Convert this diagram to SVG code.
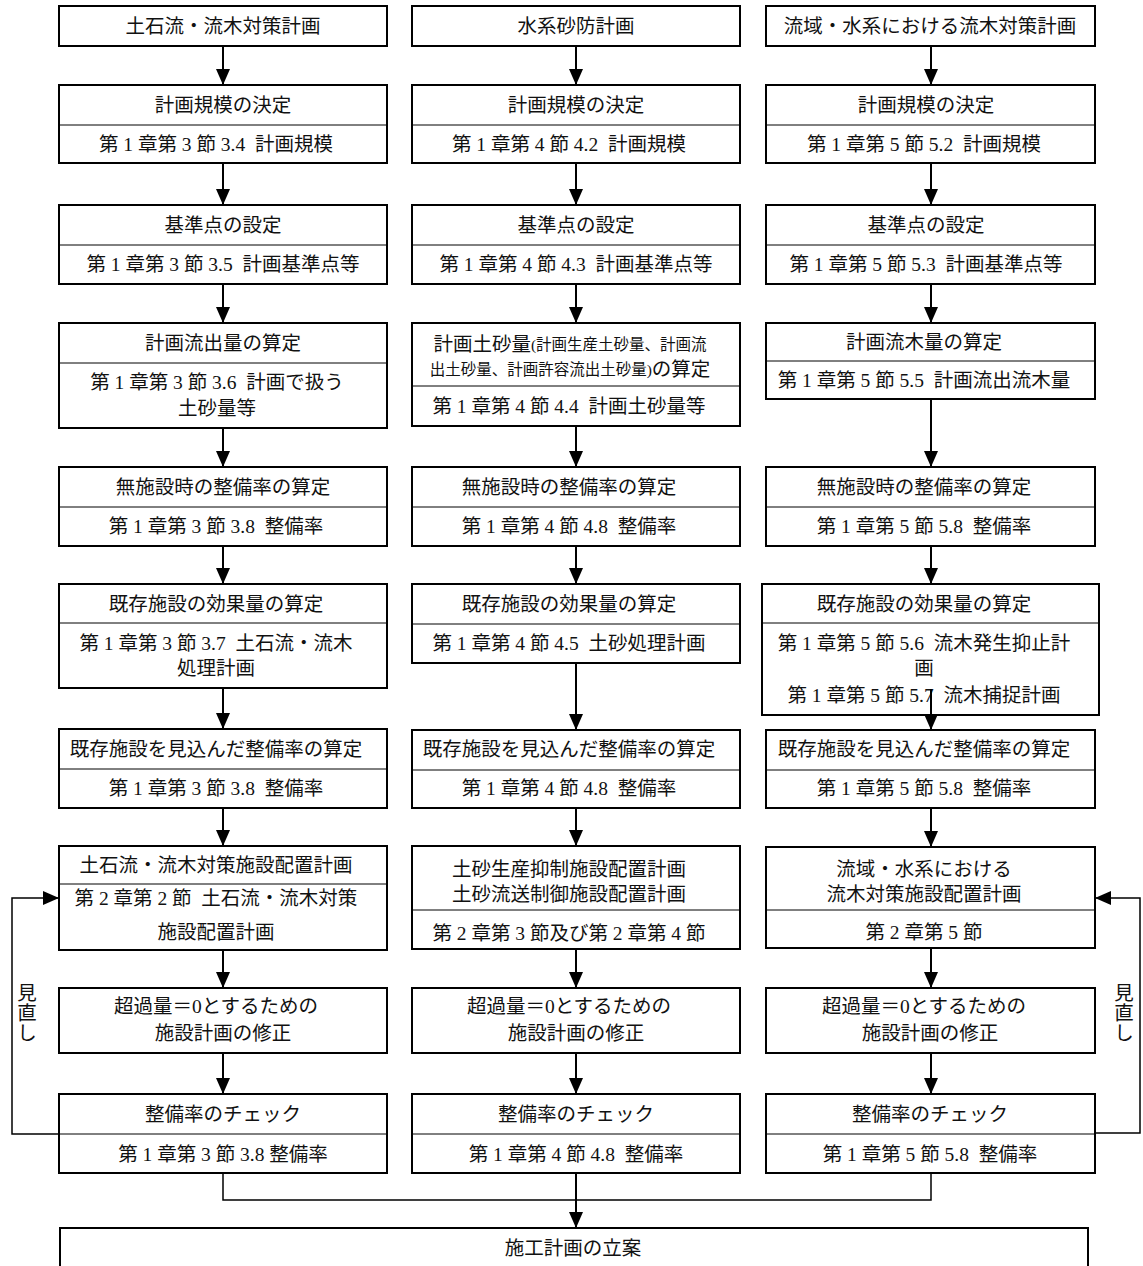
<svg xmlns="http://www.w3.org/2000/svg" width="1143" height="1266" viewBox="0 0 1143 1266" xml:space="preserve">
<defs>
<style>
.b{fill:#fff;stroke:#000;stroke-width:2}
.d{stroke:#000;stroke-width:1}
.t{font-family:"Liberation Serif","Noto Sans CJK JP",serif;font-size:19.5px;fill:#111;text-anchor:middle;dominant-baseline:central;white-space:pre}
.s{font-size:15.5px}
.c{fill:none;stroke:#000;stroke-width:2;marker-end:url(#ah)}
.f{fill:none;stroke:#000;stroke-width:1.5}
.fa{fill:none;stroke:#000;stroke-width:1.5;marker-end:url(#ah)}
</style>
<marker id="ah" viewBox="0 0 16 14" refX="16" refY="7" markerWidth="16" markerHeight="14" markerUnits="userSpaceOnUse" orient="auto">
<path d="M0,0 L16,7 L0,14 z" fill="#000"/>
</marker>
</defs>
<rect width="1143" height="1266" fill="#fff"/>

<!-- Column 1 -->
<g id="n1a"><rect class="b" x="59" y="6" width="328" height="40"/><text class="t" x="223" y="26">土石流・流木対策計画</text></g>
<g id="n1b"><rect class="b" x="59" y="85" width="328" height="78"/><line class="d" x1="59" y1="125" x2="387" y2="125"/><text class="t" x="223" y="105">計画規模の決定</text><text class="t" x="216" y="144">第 1 章第 3 節 3.4  計画規模</text></g>
<g id="n1c"><rect class="b" x="59" y="205" width="328" height="79"/><line class="d" x1="59" y1="245" x2="387" y2="245"/><text class="t" x="223" y="225">基準点の設定</text><text class="t" x="223" y="264">第 1 章第 3 節 3.5  計画基準点等</text></g>
<g id="n1d"><rect class="b" x="59" y="323" width="328" height="105"/><line class="d" x1="59" y1="363" x2="387" y2="363"/><text class="t" x="223" y="343">計画流出量の算定</text><text class="t" x="217" y="382">第 1 章第 3 節 3.6  計画で扱う</text><text class="t" x="217" y="408">土砂量等</text></g>
<g id="n1e"><rect class="b" x="59" y="467" width="328" height="79"/><line class="d" x1="59" y1="507" x2="387" y2="507"/><text class="t" x="223" y="487">無施設時の整備率の算定</text><text class="t" x="216" y="526">第 1 章第 3 節 3.8  整備率</text></g>
<g id="n1f"><rect class="b" x="59" y="584" width="328" height="104"/><line class="d" x1="59" y1="623" x2="387" y2="623"/><text class="t" x="216" y="604">既存施設の効果量の算定</text><text class="t" x="216" y="643">第 1 章第 3 節 3.7  土石流・流木</text><text class="t" x="216" y="668">処理計画</text></g>
<g id="n1g"><rect class="b" x="59" y="729" width="328" height="79"/><line class="d" x1="59" y1="769" x2="387" y2="769"/><text class="t" x="216" y="749">既存施設を見込んだ整備率の算定</text><text class="t" x="216" y="788">第 1 章第 3 節 3.8  整備率</text></g>
<g id="n1h"><rect class="b" x="59" y="846" width="328" height="104"/><line class="d" x1="59" y1="884" x2="387" y2="884"/><text class="t" x="216" y="865">土石流・流木対策施設配置計画</text><text class="t" x="216" y="898">第 2 章第 2 節  土石流・流木対策</text><text class="t" x="216" y="932">施設配置計画</text></g>
<g id="n1i"><rect class="b" x="59" y="988" width="328" height="65"/><text class="t" x="216" y="1006">超過量＝0とするための</text><text class="t" x="223" y="1033">施設計画の修正</text></g>
<g id="n1j"><rect class="b" x="59" y="1094" width="328" height="79"/><line class="d" x1="59" y1="1134" x2="387" y2="1134"/><text class="t" x="223" y="1114">整備率のチェック</text><text class="t" x="223" y="1154">第 1 章第 3 節 3.8 整備率</text></g>

<!-- Column 2 -->
<g id="n2a"><rect class="b" x="412" y="6" width="328" height="40"/><text class="t" x="576" y="26">水系砂防計画</text></g>
<g id="n2b"><rect class="b" x="412" y="85" width="328" height="78"/><line class="d" x1="412" y1="125" x2="740" y2="125"/><text class="t" x="576" y="105">計画規模の決定</text><text class="t" x="569" y="144">第 1 章第 4 節 4.2  計画規模</text></g>
<g id="n2c"><rect class="b" x="412" y="205" width="328" height="79"/><line class="d" x1="412" y1="245" x2="740" y2="245"/><text class="t" x="576" y="225">基準点の設定</text><text class="t" x="576" y="264">第 1 章第 4 節 4.3  計画基準点等</text></g>
<g id="n2d"><rect class="b" x="412" y="323" width="328" height="103"/><line class="d" x1="412" y1="386" x2="740" y2="386"/><text class="t" x="570" y="344">計画土砂量<tspan class="s">(計画生産土砂量、計画流</tspan></text><text class="t" x="570" y="369"><tspan class="s">出土砂量、計画許容流出土砂量)</tspan>の算定</text><text class="t" x="569" y="406">第 1 章第 4 節 4.4  計画土砂量等</text></g>
<g id="n2e"><rect class="b" x="412" y="467" width="328" height="79"/><line class="d" x1="412" y1="507" x2="740" y2="507"/><text class="t" x="569" y="487">無施設時の整備率の算定</text><text class="t" x="569" y="526">第 1 章第 4 節 4.8  整備率</text></g>
<g id="n2f"><rect class="b" x="412" y="584" width="328" height="79"/><line class="d" x1="412" y1="624" x2="740" y2="624"/><text class="t" x="569" y="604">既存施設の効果量の算定</text><text class="t" x="569" y="643">第 1 章第 4 節 4.5  土砂処理計画</text></g>
<g id="n2g"><rect class="b" x="412" y="730" width="328" height="78"/><line class="d" x1="412" y1="770" x2="740" y2="770"/><text class="t" x="569" y="749">既存施設を見込んだ整備率の算定</text><text class="t" x="569" y="788">第 1 章第 4 節 4.8  整備率</text></g>
<g id="n2h"><rect class="b" x="412" y="846" width="328" height="103"/><line class="d" x1="412" y1="910" x2="740" y2="910"/><text class="t" x="569" y="869">土砂生産抑制施設配置計画</text><text class="t" x="569" y="894">土砂流送制御施設配置計画</text><text class="t" x="569" y="933">第 2 章第 3 節及び第 2 章第 4 節</text></g>
<g id="n2i"><rect class="b" x="412" y="988" width="328" height="65"/><text class="t" x="569" y="1006">超過量＝0とするための</text><text class="t" x="576" y="1033">施設計画の修正</text></g>
<g id="n2j"><rect class="b" x="412" y="1094" width="328" height="79"/><line class="d" x1="412" y1="1134" x2="740" y2="1134"/><text class="t" x="576" y="1114">整備率のチェック</text><text class="t" x="576" y="1154">第 1 章第 4 節 4.8  整備率</text></g>

<!-- Column 3 -->
<g id="n3a"><rect class="b" x="766" y="6" width="329" height="40"/><text class="t" x="930" y="26">流域・水系における流木対策計画</text></g>
<g id="n3b"><rect class="b" x="766" y="85" width="329" height="78"/><line class="d" x1="766" y1="125" x2="1095" y2="125"/><text class="t" x="926" y="105">計画規模の決定</text><text class="t" x="924" y="144">第 1 章第 5 節 5.2  計画規模</text></g>
<g id="n3c"><rect class="b" x="766" y="205" width="329" height="79"/><line class="d" x1="766" y1="245" x2="1095" y2="245"/><text class="t" x="926" y="225">基準点の設定</text><text class="t" x="926" y="264">第 1 章第 5 節 5.3  計画基準点等</text></g>
<g id="n3d"><rect class="b" x="766" y="323" width="329" height="76"/><line class="d" x1="766" y1="361" x2="1095" y2="361"/><text class="t" x="924" y="342">計画流木量の算定</text><text class="t" x="924" y="380">第 1 章第 5 節 5.5  計画流出流木量</text></g>
<g id="n3e"><rect class="b" x="766" y="467" width="329" height="79"/><line class="d" x1="766" y1="507" x2="1095" y2="507"/><text class="t" x="924" y="487">無施設時の整備率の算定</text><text class="t" x="924" y="526">第 1 章第 5 節 5.8  整備率</text></g>
<g id="n3f"><rect class="b" x="762" y="584" width="337" height="131"/><line class="d" x1="762" y1="623" x2="1099" y2="623"/><text class="t" x="924" y="604">既存施設の効果量の算定</text><text class="t" x="924" y="643">第 1 章第 5 節 5.6  流木発生抑止計</text><text class="t" x="924" y="668">画</text><text class="t" x="924" y="695">第 1 章第 5 節 5.7  流木捕捉計画</text></g>
<g id="n3g"><rect class="b" x="766" y="730" width="329" height="78"/><line class="d" x1="766" y1="770" x2="1095" y2="770"/><text class="t" x="924" y="749">既存施設を見込んだ整備率の算定</text><text class="t" x="924" y="788">第 1 章第 5 節 5.8  整備率</text></g>
<g id="n3h"><rect class="b" x="766" y="847" width="329" height="101"/><line class="d" x1="766" y1="910" x2="1095" y2="910"/><text class="t" x="924" y="869">流域・水系における</text><text class="t" x="924" y="894">流木対策施設配置計画</text><text class="t" x="924" y="932">第 2 章第 5 節</text></g>
<g id="n3i"><rect class="b" x="766" y="988" width="329" height="65"/><text class="t" x="924" y="1006">超過量＝0とするための</text><text class="t" x="930" y="1033">施設計画の修正</text></g>
<g id="n3j"><rect class="b" x="766" y="1094" width="329" height="79"/><line class="d" x1="766" y1="1134" x2="1095" y2="1134"/><text class="t" x="930" y="1114">整備率のチェック</text><text class="t" x="930" y="1154">第 1 章第 5 節 5.8  整備率</text></g>

<!-- Bottom -->
<g id="n4"><rect class="b" x="60" y="1228" width="1028" height="60"/><text class="t" x="573" y="1248">施工計画の立案</text></g>

<!-- Feedback labels -->
<g id="lbl-left"><text class="t"><tspan x="27" y="993">見</tspan><tspan x="27" y="1013">直</tspan><tspan x="27" y="1033">し</tspan></text></g>
<g id="lbl-right"><text class="t"><tspan x="1124" y="993">見</tspan><tspan x="1124" y="1013">直</tspan><tspan x="1124" y="1033">し</tspan></text></g>

<!-- Connectors -->
<g id="connectors">
<line class="c" x1="223" y1="46" x2="223" y2="85"/>
<line class="c" x1="223" y1="163" x2="223" y2="205"/>
<line class="c" x1="223" y1="284" x2="223" y2="323"/>
<line class="c" x1="223" y1="428" x2="223" y2="467"/>
<line class="c" x1="223" y1="546" x2="223" y2="584"/>
<line class="c" x1="223" y1="688" x2="223" y2="729"/>
<line class="c" x1="223" y1="808" x2="223" y2="846"/>
<line class="c" x1="223" y1="950" x2="223" y2="988"/>
<line class="c" x1="223" y1="1053" x2="223" y2="1094"/>

<line class="c" x1="576" y1="46" x2="576" y2="85"/>
<line class="c" x1="576" y1="163" x2="576" y2="205"/>
<line class="c" x1="576" y1="284" x2="576" y2="323"/>
<line class="c" x1="576" y1="426" x2="576" y2="467"/>
<line class="c" x1="576" y1="546" x2="576" y2="584"/>
<line class="c" x1="576" y1="663" x2="576" y2="730"/>
<line class="c" x1="576" y1="808" x2="576" y2="846"/>
<line class="c" x1="576" y1="949" x2="576" y2="988"/>
<line class="c" x1="576" y1="1053" x2="576" y2="1094"/>

<line class="c" x1="931" y1="46" x2="931" y2="85"/>
<line class="c" x1="931" y1="163" x2="931" y2="205"/>
<line class="c" x1="931" y1="284" x2="931" y2="323"/>
<line class="c" x1="931" y1="399" x2="931" y2="467"/>
<line class="c" x1="931" y1="546" x2="931" y2="584"/>
<line class="c" x1="931" y1="689" x2="931" y2="730"/>
<line class="c" x1="931" y1="808" x2="931" y2="847"/>
<line class="c" x1="931" y1="948" x2="931" y2="988"/>
<line class="c" x1="931" y1="1053" x2="931" y2="1094"/>

<polyline class="f" points="223,1173 223,1200 931,1200 931,1173"/>
<line class="c" x1="576" y1="1173" x2="576" y2="1228"/>

<polyline class="fa" points="59,1134 12,1134 12,898 59,898"/>
<polyline class="fa" points="1095,1133 1140,1133 1140,898 1095,898"/>
</g>
</svg>
